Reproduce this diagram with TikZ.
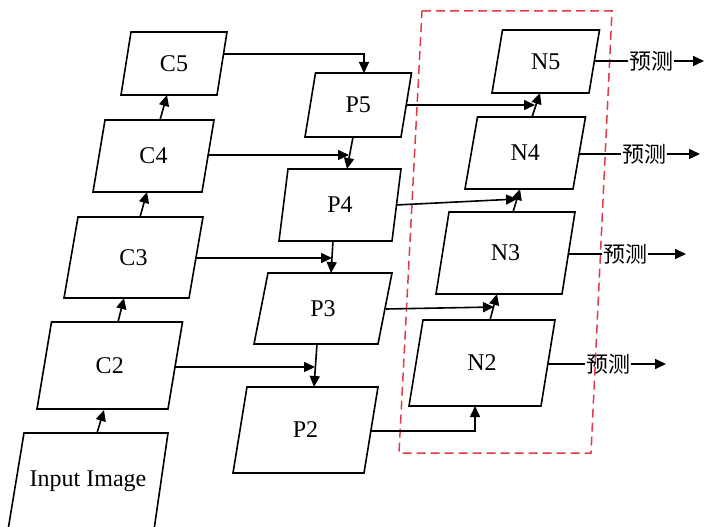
\documentclass[tikz,border=0pt]{standalone}
\usepackage{fontspec}
\setmainfont{Liberation Serif}
\newfontfamily\cjk{Noto Sans CJK SC}
\usetikzlibrary{arrows.meta}
\definecolor{dashred}{RGB}{222,60,72}
\tikzset{
  boxline/.style={draw=black, line width=1.6pt, line join=miter},
  lbl/.style={font=\fontsize{24}{26}\selectfont, inner sep=0pt},
  conn/.style={line width=1.6pt, -{Triangle[length=11pt,width=10pt]}},
  plainline/.style={line width=1.6pt},
  pred/.style={font=\cjk\fontsize{22}{24}\selectfont, inner sep=0.5pt},
  redbox/.style={draw=dashred, line width=1.5pt, dash pattern=on 9pt off 5pt},
}
% name, ytop, ybottom, bottom-left x, bottom-right x, slant, label
\newcommand\pgram[7]{%
  \draw[boxline] (#4,#3) -- (#5,#3) -- ({#5+#6},#2) -- ({#4+#6},#2) -- cycle;
  \node[lbl] (#1) at ({(#4+#5+#6)/2},{(#2+#3)/2}) {#7};}
\begin{document}
\begin{tikzpicture}[x=1pt,y=-1pt]
\useasboundingbox (0,0) rectangle (705,527);

% red dashed region
\draw[redbox] (422,11) -- (612,11) -- (591,453) -- (399,453) -- cycle;

% bottom-up column
\draw[boxline] (8,530) -- (24,433) -- (168,433) -- (154,530);
\node[lbl] (IN) at (88,481) {Input Image};
\pgram{C2}{322}{409}{37}{168}{14.5}{C2}
\pgram{C3}{217}{298}{64}{189}{14}{C3}
\pgram{C4}{120}{192}{93}{202}{12}{C4}
\pgram{C5}{32}{95}{121}{217}{10}{C5}

% top-down column
\pgram{P5}{73}{137}{305}{401}{10.5}{P5}
\pgram{P4}{169}{241}{279}{392}{9}{P4}
\pgram{P3}{273}{344}{254}{378}{14}{P3}
\pgram{P2}{387}{473}{233}{364}{14}{P2}

% bottom-up augmentation column
\pgram{N5}{30}{93}{492}{589}{10.5}{N5}
\pgram{N4}{117}{189}{465}{573}{12.5}{N4}
\pgram{N3}{212}{294}{436}{562}{13}{N3}
\pgram{N2}{320}{406}{409}{541}{14}{N2}

% connector end points
\coordinate (inT) at (97,433);   \coordinate (c2B) at (104,410);
\coordinate (c2T) at (118,322);  \coordinate (c3B) at (124,298);
\coordinate (c3T) at (140,217);  \coordinate (c4B) at (147,192);
\coordinate (c4T) at (160,120);  \coordinate (c5B) at (167,95);

\coordinate (c5R) at (223,54);   \coordinate (p5T) at (364,73);
\coordinate (c4R) at (208,155);  \coordinate (p4L) at (349,155);
\coordinate (p5B) at (353,137);  \coordinate (p4T) at (347,169);
\coordinate (c3R) at (196,258);  \coordinate (p3L) at (332,258);
\coordinate (p4B) at (333,241);  \coordinate (p3T) at (331,273);
\coordinate (c2R) at (175,367);  \coordinate (p2L) at (315,367);
\coordinate (p3B) at (317,344);  \coordinate (p2T) at (314,387);

\coordinate (p5R) at (406,105);  \coordinate (n5L) at (535,105);
\coordinate (n4T) at (532,117);  \coordinate (n5B) at (540,93);
\coordinate (p4R) at (396,205);  \coordinate (n4L) at (517,199);
\coordinate (n3T) at (513,212);  \coordinate (n4B) at (520,189);
\coordinate (p3R) at (386,309);  \coordinate (n3L) at (494,307);
\coordinate (n2T) at (490,320);  \coordinate (n3B) at (497,294);
\coordinate (p2R) at (371,431);  \coordinate (n2B) at (475,406);

\coordinate (n5R) at (594,61);   \coordinate (o5) at (704,61);
\coordinate (n4R) at (579,154);  \coordinate (o4) at (700,154);
\coordinate (n3R) at (568,254);  \coordinate (o3) at (686,254);
\coordinate (n2R) at (548,364);  \coordinate (o2) at (666,364);

% bottom-up arrows
\draw[conn] (inT) -- (c2B);
\draw[conn] (c2T) -- (c3B);
\draw[conn] (c3T) -- (c4B);
\draw[conn] (c4T) -- (c5B);

% lateral and top-down arrows
\draw[conn] (c5R) -| (p5T);
\draw[conn] (c4R) -- (p4L);
\draw[conn] (p5B) -- (p4T);
\draw[conn] (c3R) -- (p3L);
\draw[conn] (p4B) -- (p3T);
\draw[conn] (c2R) -- (p2L);
\draw[conn] (p3B) -- (p2T);

% P to N arrows
\draw[conn] (p5R) -- (n5L);
\draw[conn] (n4T) -- (n5B);
\draw[conn] (p4R) -- (n4L);
\draw[conn] (n3T) -- (n4B);
\draw[conn] (p3R) -- (n3L);
\draw[conn] (n2T) -- (n3B);
\draw[conn] (p2R) -| (n2B);

% predictions
\node[pred] (t5) at (651,61) {预测};
\node[pred] (t4) at (644,154) {预测};
\node[pred] (t3) at (625,254) {预测};
\node[pred] (t2) at (608,364) {预测};
\draw[plainline] (n5R) -- (t5.west);  \draw[conn] (t5.east) -- (o5);
\draw[plainline] (n4R) -- (t4.west);  \draw[conn] (t4.east) -- (o4);
\draw[plainline] (n3R) -- (t3.west);  \draw[conn] (t3.east) -- (o3);
\draw[plainline] (n2R) -- (t2.west);  \draw[conn] (t2.east) -- (o2);
\end{tikzpicture}
\end{document}
